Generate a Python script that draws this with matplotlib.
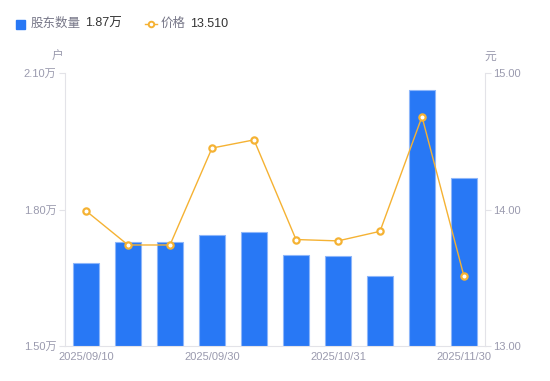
import matplotlib.pyplot as plt
from matplotlib.lines import Line2D

plt.rcParams['font.family'] = ['Liberation Sans', 'Noto Sans CJK SC', 'DejaVu Sans']

# data
dates = ['2025/09/10', '2025/09/19', '2025/09/26', '2025/09/30', '2025/10/10',
         '2025/10/20', '2025/10/31', '2025/11/10', '2025/11/20', '2025/11/30']
holders = [1.682, 1.729, 1.729, 1.744, 1.751, 1.700, 1.698, 1.654, 2.063, 1.869]  # 万户
price = [13.99, 13.74, 13.74, 14.45, 14.51, 13.78, 13.77, 13.84, 14.68, 13.51]
left_ticks = [1.50, 1.80, 2.10]
right_ticks = [13.00, 14.00, 15.00]

blue = '#2878F5'
orange = '#F5B233'
grey = '#9A9AAE'
axis_col = '#E3E3E8'

fig = plt.figure(figsize=(5.5, 3.81), dpi=100)
ax = fig.add_axes([65 / 550, 1 - 346 / 381, 420 / 550, 273 / 381])
ax2 = ax.twinx()

x = range(len(dates))
ax.bar(x, holders, width=0.6, color=blue, edgecolor='#8DB6FA', linewidth=0.8, zorder=2)
ax2.plot(x, price, color=orange, lw=1, marker='o', ms=4.5, mfc='white',
         mec=orange, mew=1.6, zorder=3)

ax.set_xlim(-0.5, len(dates) - 0.5)
ax.set_ylim(1.50, 2.10)
ax2.set_ylim(13.0, 15.0)

ax.set_yticks(left_ticks)
ax.set_yticklabels([f'{v:.2f}万' for v in left_ticks])
ax2.set_yticks(right_ticks)
ax2.set_yticklabels([f'{v:.2f}' for v in right_ticks])

shown = [0, 3, 6, 9]
ax.set_xticks(shown)
ax.set_xticklabels([dates[i] for i in shown])

for a in (ax, ax2):
    for s in a.spines.values():
        s.set_visible(False)
    a.tick_params(colors=grey, labelsize=8, length=4, width=0.8, color=axis_col, pad=2)
ax.tick_params(axis='x', length=0, pad=4)
ax.spines['left'].set_visible(True)
ax.spines['left'].set_color(axis_col)
ax.spines['bottom'].set_visible(True)
ax.spines['bottom'].set_color(axis_col)
ax2.spines['right'].set_visible(True)
ax2.spines['right'].set_color(axis_col)

# unit labels
fig.text(58 / 550, 1 - 57 / 381, '户', color=grey, fontsize=8.5, ha='center', va='center')
fig.text(490 / 550, 1 - 57 / 381, '元', color=grey, fontsize=8.5, ha='center', va='center')

# legend row
ly = 1 - 24 / 381
fig.patches.append(plt.Rectangle((16 / 550, 1 - 29 / 381), 9 / 550, 9 / 381,
                                 transform=fig.transFigure, color=blue, figure=fig))
fig.text(31 / 550, ly, '股东数量', color='#777788', fontsize=9, va='center')
fig.text(85 / 550, ly, f'{holders[-1]:.2f}万', color='#333333', fontsize=9, va='center')
fig.lines.append(Line2D([145 / 550, 157 / 550], [ly, ly], transform=fig.transFigure,
                        color=orange, lw=1))
fig.lines.append(Line2D([151 / 550], [ly], transform=fig.transFigure, color=orange,
                        marker='o', ms=4, mfc='white', mew=1.4))
fig.text(161 / 550, ly, '价格', color='#777788', fontsize=9, va='center')
fig.text(190 / 550, ly, f'{price[-1]:.3f}', color='#333333', fontsize=9, va='center')

fig.savefig('out.png', dpi=100)
